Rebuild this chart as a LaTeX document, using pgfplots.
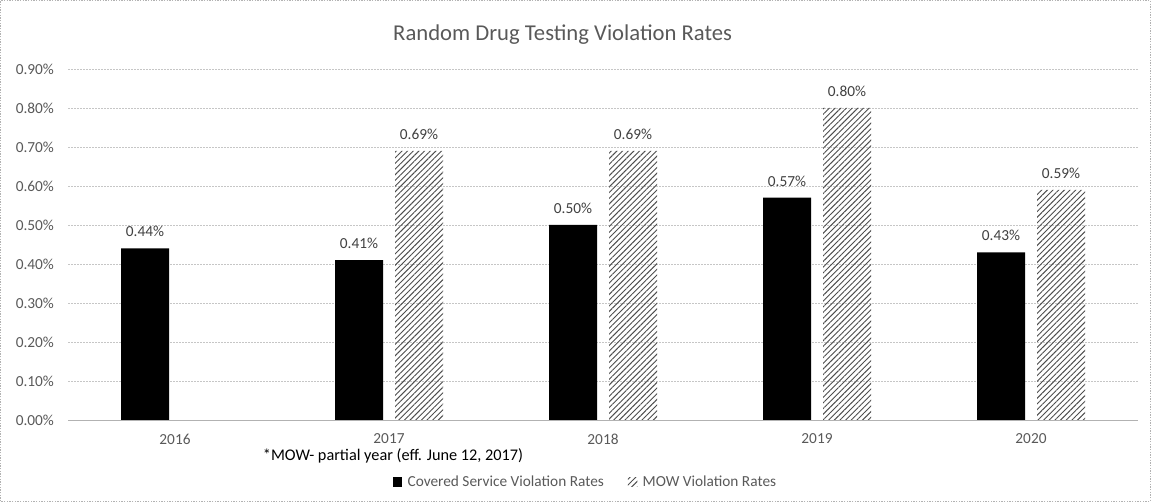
\documentclass[border=0pt]{standalone}
\usepackage{pgfplots}
\pgfplotsset{compat=1.18}
\usepackage{fontspec}
\setmainfont{Carlito}
\usetikzlibrary{patterns.meta}
\definecolor{txtgray}{HTML}{595959}
\definecolor{lblgray}{HTML}{404040}
\definecolor{hatch}{HTML}{4D4D4D}
\begin{document}
\begin{tikzpicture}
\path[use as bounding box] (0,0) rectangle (863.25pt,376.5pt);
\draw[gray!60, dash pattern=on 1pt off 1pt, line width=0.5pt] (0.5pt,0.5pt) rectangle (862.75pt,376pt);
\node[text=txtgray, font=\fontsize{17}{20}\selectfont] at (422pt,350.5pt) {Random Drug Testing Violation Rates};
\node[anchor=west, text=black, font=\fontsize{12.2}{14}\selectfont, inner sep=0pt] at (197pt,34.5pt) {*MOW- partial year (eff. June 12, 2017)};
\begin{axis}[
  at={(51pt,61.5pt)}, anchor=south west,
  scale only axis, width=802.5pt, height=263.25pt,
  ybar, bar width=36pt,
  xmin=-0.5, xmax=4.5, ymin=0, ymax=0.9,
  xtick={0,1,2,3,4}, xticklabels={2016,2017,2018,2019,2020},
  ytick={0,0.1,0.2,0.3,0.4,0.5,0.6,0.7,0.8,0.9},
  yticklabel={\pgfmathprintnumber[fixed,fixed zerofill,precision=2]{\tick}\%},
  /pgf/number format/assume math mode=true,
  major tick length=0pt,
  axis x line*=bottom, axis y line*=left,
  x axis line style={gray!60, line width=0.6pt, -},
  y axis line style={draw=none},
  ymajorgrids,
  major grid style={gray!45, dash pattern=on 1.5pt off 0.75pt, line width=0.5pt},
  tick label style={text=txtgray, font=\fontsize{11.5}{13}\selectfont},
  xticklabel style={yshift=-7pt},
  yticklabel style={xshift=-7pt},
  nodes near coords={\pgfmathprintnumber[fixed,fixed zerofill,precision=2]{\pgfplotspointmeta}\%},
  nodes near coords style={text=lblgray, font=\fontsize{11.5}{13}\selectfont, yshift=5pt},
  legend style={at={(0.484,-0.1766)}, anchor=center, draw=none, fill=none,
    legend columns=2, font=\fontsize{11.5}{13}\selectfont, text=txtgray,
    /tikz/every even column/.append style={column sep=16pt},
    /tikz/every odd column/.append style={column sep=2pt}},
  legend image code/.code={\fill[#1] (0pt,-3.5pt) rectangle (7pt,3.5pt);},
  clip=false,
]
\addplot[fill=black, draw=none, bar shift=-22.5pt] coordinates {(0,0.44) (1,0.41) (2,0.50) (3,0.57) (4,0.43)};
\addlegendentry{Covered Service Violation Rates}
\addplot[draw=none, pattern={Lines[angle=45,distance=3pt,line width=0.7pt]}, pattern color=hatch, bar shift=22.5pt] coordinates {(1,0.69) (2,0.69) (3,0.80) (4,0.59)};
\addlegendentry{MOW Violation Rates}
\end{axis}
\end{tikzpicture}
\end{document}
